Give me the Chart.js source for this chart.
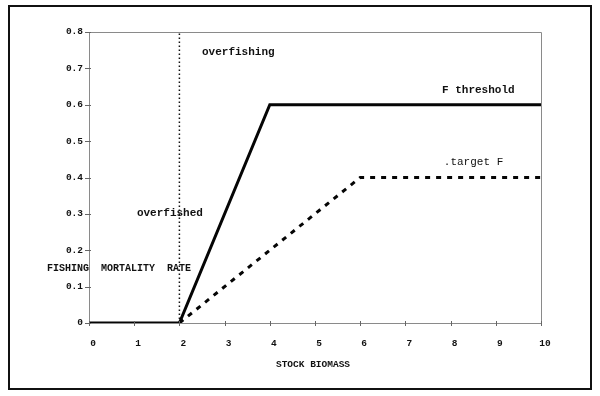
<!DOCTYPE html>
<html>
<head>
<meta charset="utf-8">
<script src="https://cdn.jsdelivr.net/npm/chart.js@4/dist/chart.umd.min.js"></script>
<style>
html,body{margin:0;padding:0;background:#fff;}
canvas{display:block;}
</style>
</head>
<body>
<canvas id="c" width="600" height="396"></canvas>
<script>
// ---- data ----
const thresholdX = [0, 2, 4, 10];
const thresholdF = [0, 0, 0.6, 0.6];
const targetX = [2, 6, 10];
const targetF = [0, 0.4, 0.4];
const limitX = [2, 2];
const limitY = [0, 0.8];
const xTicks = [0, 1, 2, 3, 4, 5, 6, 7, 8, 9, 10];
const yTicks = [0, 0.1, 0.2, 0.3, 0.4, 0.5, 0.6, 0.7, 0.8];
const annotations = [
  {text: 'overfishing', x: 2.5, y: 0.743, bold: true, size: 11},
  {text: 'overfished', x: 1.06, y: 0.302, bold: true, size: 11},
  {text: 'F threshold', x: 7.81, y: 0.639, bold: true, size: 11},
  {text: '.target F', x: 7.85, y: 0.443, bold: false, size: 11},
  {text: 'FISHING  MORTALITY  RATE', x: -0.93, y: 0.151, bold: true, size: 10}
];
const xTitle = 'STOCK BIOMASS';

const pts = (xs, ys) => xs.map((x, i) => ({x: x, y: ys[i]}));
const MONO = '"Liberation Mono", "DejaVu Sans Mono", monospace';

const decor = {
  id: 'decor',
  beforeDraw(chart) {
    const ctx = chart.ctx;
    ctx.save();
    ctx.fillStyle = '#fff';
    ctx.fillRect(0, 0, chart.width, chart.height);
    // outer frame
    ctx.strokeStyle = '#111';
    ctx.lineWidth = 2;
    ctx.strokeRect(9, 6, 582, 383);
    // plot top/right border
    const a = chart.chartArea;
    ctx.strokeStyle = '#8a8a8a';
    ctx.lineWidth = 1;
    ctx.beginPath();
    ctx.moveTo(a.left, a.top + 0.5);
    ctx.lineTo(a.right + 0.5, a.top + 0.5);
    ctx.lineTo(a.right + 0.5, a.bottom);
    ctx.stroke();
    ctx.restore();
  },
  afterDatasetsDraw(chart) {
    const ctx = chart.ctx;
    const xs = chart.scales.x, ys = chart.scales.y;
    ctx.save();
    // crossing tick marks
    ctx.strokeStyle = '#666';
    ctx.lineWidth = 1;
    ctx.beginPath();
    xTicks.forEach(v => {
      const px = Math.round(xs.getPixelForValue(v)) + 0.5;
      ctx.moveTo(px, ys.bottom - 2);
      ctx.lineTo(px, ys.bottom + 3);
    });
    yTicks.forEach(v => {
      const py = Math.round(ys.getPixelForValue(v)) + 0.5;
      ctx.moveTo(xs.left - 4, py);
      ctx.lineTo(xs.left + 2, py);
    });
    ctx.stroke();
    // text annotations
    ctx.fillStyle = '#111';
    ctx.textBaseline = 'middle';
    ctx.textAlign = 'left';
    annotations.forEach(a => {
      ctx.font = (a.bold ? 'bold ' : '') + a.size + 'px ' + MONO;
      ctx.fillText(a.text, xs.getPixelForValue(a.x), ys.getPixelForValue(a.y));
    });
    ctx.font = 'bold 9.5px ' + MONO;
    ctx.textAlign = 'center';
    ctx.fillText(xTitle, (xs.left + xs.right) / 2 - 2, ys.bottom + 42);
    ctx.restore();
  }
};

new Chart(document.getElementById('c'), {
  type: 'scatter',
  data: {
    datasets: [
      {
        label: 'F threshold',
        data: pts(thresholdX, thresholdF),
        showLine: true,
        borderColor: '#050505',
        borderWidth: 3,
        pointRadius: 0,
        tension: 0
      },
      {
        label: 'target F',
        data: pts(targetX, targetF),
        showLine: true,
        borderColor: '#050505',
        borderWidth: 3,
        borderDash: [5, 6],
        pointRadius: 0,
        tension: 0
      },
      {
        label: 'limit',
        data: pts(limitX, limitY),
        showLine: true,
        borderColor: '#111',
        borderWidth: 1.5,
        borderDash: [1.5, 2.5],
        pointRadius: 0,
        tension: 0
      }
    ]
  },
  options: {
    responsive: false,
    devicePixelRatio: 1,
    animation: false,
    layout: {padding: {left: 0, top: 32, right: 59, bottom: 0}},
    plugins: {legend: {display: false}, tooltip: {enabled: false}},
    scales: {
      x: {
        type: 'linear',
        min: 0, max: 10,
        afterFit: s => { s.height = 73; },
        afterBuildTicks: s => { s.ticks = xTicks.map(v => ({value: v})); },
        grid: {display: false, drawTicks: false},
        border: {display: true, color: '#8a8a8a', width: 1},
        ticks: {
          padding: 15,
          labelOffset: 4,
          maxRotation: 0,
          autoSkip: false,
          color: '#111',
          font: {family: MONO, size: 9.5, weight: 'bold'},
          callback: v => String(v)
        }
      },
      y: {
        type: 'linear',
        min: 0, max: 0.8,
        afterFit: s => { s.width = 89; },
        afterBuildTicks: s => { s.ticks = yTicks.map(v => ({value: v})); },
        grid: {display: false, drawTicks: false},
        border: {display: true, color: '#8a8a8a', width: 1},
        ticks: {
          padding: 6,
          autoSkip: false,
          color: '#111',
          font: {family: MONO, size: 9.5, weight: 'bold'},
          callback: v => (v === 0 ? '0' : Number(v).toFixed(1))
        }
      }
    }
  },
  plugins: [decor]
});
</script>
</body>
</html>
